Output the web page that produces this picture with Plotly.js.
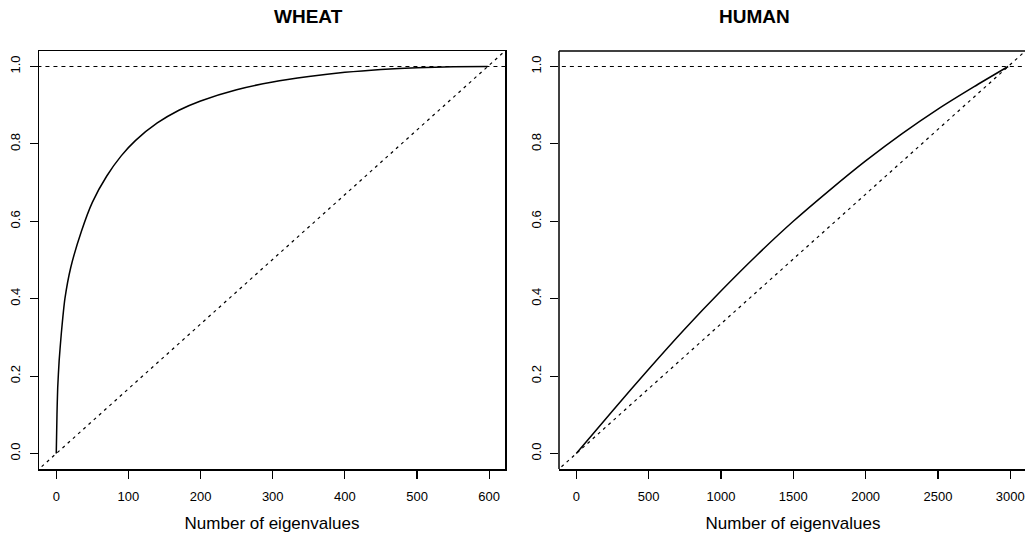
<!DOCTYPE html>
<html>
<head>
<meta charset="utf-8">
<script src="https://cdn.plot.ly/plotly-3.0.1.min.js"></script>
<style>html,body{margin:0;padding:0;background:#fff;overflow:hidden;width:1025px;height:538px;}</style>
</head>
<body>
<div id="chart" style="width:1027px;height:538px;"></div>
<script>
// ---- data ----
const panelTitles = ["WHEAT", "HUMAN"];
const xAxisTitle = "Number of eigenvalues";

const wheatN = 598;
const wheatX = [0, 1, 2, 4, 7, 12, 20, 35, 50, 70, 90, 110, 140, 170, 200, 250, 300, 350, 400, 450, 500, 550, 598];
const wheatY = [0, 0.10, 0.17, 0.24, 0.31, 0.40, 0.48, 0.575, 0.649, 0.717, 0.769, 0.809, 0.854, 0.887, 0.911, 0.940, 0.960, 0.974, 0.985, 0.9925, 0.997, 0.9993, 1.0];

const humanN = 2985;
const humanX = [0, 250, 500, 750, 1000, 1250, 1500, 1750, 2000, 2250, 2500, 2750, 2985];
const humanY = [0, 0.11, 0.218, 0.322, 0.42, 0.513, 0.60, 0.68, 0.756, 0.826, 0.89, 0.948, 1.0];

const wheatTicks = [0, 100, 200, 300, 400, 500, 600];
const humanTicks = [0, 500, 1000, 1500, 2000, 2500, 3000];
const yTicks = [0, 0.2, 0.4, 0.6, 0.8, 1.0];

// ---- styles ----
const FONT = "Liberation Sans, Arial, Helvetica, sans-serif";
const curveLine = {color: "black", width: 1.5, shape: "spline", smoothing: 0.6};
const dashLine = {color: "black", width: 1.2, dash: "4px,4px"};
const diagLine = {color: "black", width: 1.2, dash: "3px,4px"};

function panelTraces(xs, ys, n, xa, ya) {
  return [
    {x: xs, y: ys, xaxis: xa, yaxis: ya, mode: "lines", line: curveLine, hoverinfo: "skip"},
    {x: [-n, 2 * n], y: [-1, 2], xaxis: xa, yaxis: ya, mode: "lines", line: diagLine, hoverinfo: "skip"},
    {x: [-10 * n, 10 * n], y: [1, 1], xaxis: xa, yaxis: ya, mode: "lines", line: dashLine, hoverinfo: "skip"}
  ];
}

const data = [].concat(
  panelTraces(wheatX, wheatY, wheatN, "x", "y"),
  panelTraces(humanX, humanY, humanN, "x2", "y2")
);

function xAxis(domain, range, ticks, anchor, mirror) {
  return {
    domain: domain, anchor: anchor,
    range: range,
    showgrid: false, zeroline: false,
    showline: true, linecolor: "black", linewidth: 1.5, mirror: mirror,
    ticks: "outside", ticklen: 8, tickwidth: 1.2, tickcolor: "black",
    tickvals: ticks, ticktext: ticks.map(String),
    tickfont: {family: FONT, size: 13, color: "black"},
    ticklabelstandoff: 7,
    title: {text: xAxisTitle, font: {family: FONT, size: 17, color: "black"}, standoff: 14}
  };
}
function yAxis(anchor, showline) {
  return {
    anchor: anchor, domain: [0, 1],
    range: [-0.04, 1.04],
    showgrid: false, zeroline: false,
    showline: showline, linecolor: "black", linewidth: 1.5, mirror: showline,
    ticks: "outside", ticklen: 8, tickwidth: 1.2, tickcolor: "black",
    tickvals: yTicks, ticktext: yTicks.map(v => v.toFixed(1)),
    tickangle: -90,
    tickfont: {family: FONT, size: 13, color: "black"},
    ticklabelstandoff: 4
  };
}

const layout = {
  width: 1027, height: 538,
  margin: {l: 39, r: 0, t: 51, b: 69},
  paper_bgcolor: "white", plot_bgcolor: "white",
  showlegend: false,
  xaxis: xAxis([0, 0.47166], [-0.04 * wheatN, 1.04 * wheatN], wheatTicks, "y", true),
  yaxis: yAxis("x", true),
  xaxis2: xAxis([0.52632, 1], [-0.04 * humanN, 3115.5], humanTicks, "y2", false),
  yaxis2: yAxis("x2", false),
  shapes: [
    {type: "line", xref: "x2 domain", yref: "y2 domain", x0: 0, x1: 0, y0: 0, y1: 1, line: {color: "black", width: 1.5}},
    {type: "line", xref: "x2 domain", yref: "y2 domain", x0: 0, x1: 1, y0: 1, y1: 1, line: {color: "black", width: 1.5}}
  ],
  annotations: [
    {text: "<b>" + panelTitles[0] + "</b>", xref: "paper", yref: "paper", x: 0.23583, y: 1, yshift: 35, yanchor: "middle", showarrow: false, font: {family: FONT, size: 19, color: "black"}},
    {text: "<b>" + panelTitles[1] + "</b>", xref: "paper", yref: "paper", x: 0.7621, y: 1, yshift: 35, yanchor: "middle", showarrow: false, font: {family: FONT, size: 19, color: "black"}}
  ]
};

Plotly.newPlot("chart", data, layout, {displayModeBar: false, staticPlot: true});
</script>
</body>
</html>
